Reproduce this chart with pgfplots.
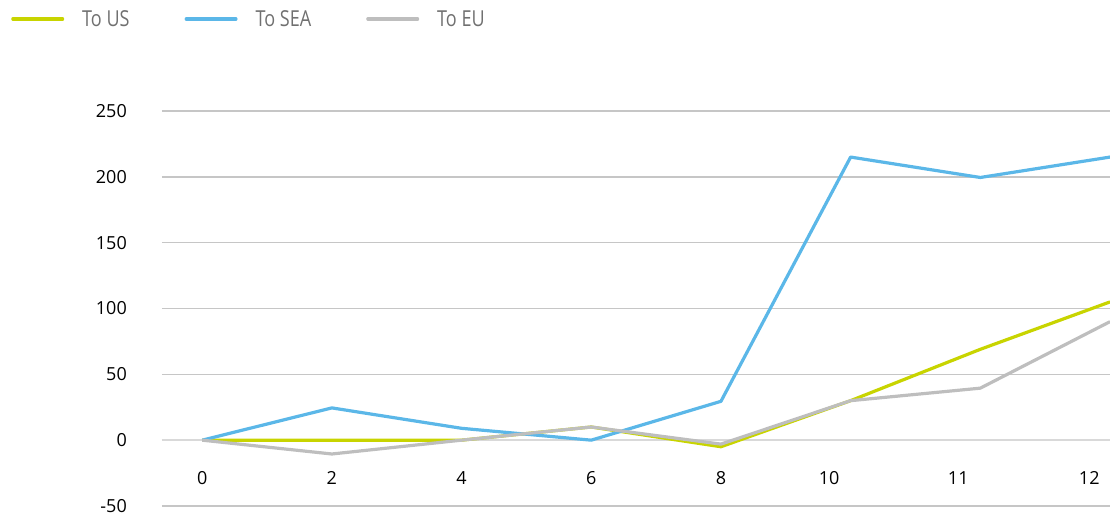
\documentclass[border=0pt]{standalone}
\usepackage{fontspec}
\setmainfont{Open Sans}
\newfontfamily\legfont[FakeStretch=0.82]{Open Sans}
\usepackage{pgfplots}
\pgfplotsset{compat=1.18}
\definecolor{cUS}{HTML}{C8D400}
\definecolor{cSEA}{HTML}{5BB7E8}
\definecolor{cEU}{HTML}{BEBEBE}
\definecolor{gridc}{HTML}{C6C6C6}
\definecolor{zeroc}{HTML}{D9D9D9}
\definecolor{legtext}{HTML}{707070}
\begin{document}
\begin{tikzpicture}
\path[use as bounding box] (-162pt,-15pt) rectangle (948pt,506pt);
\begin{axis}[
  at={(0,0)}, anchor=south west,
  scale only axis, width=948pt, height=395pt,
  xmin=-0.31, xmax=7, ymin=-50, ymax=250,
  axis line style={draw=none},
  tick style={draw=none},
  ytick={-50,0,50,100,150,200,250},
  ymajorgrids, grid style={gridc, line width=1.5pt},
  xtick={0,1,2,3,4,4.834,5.83,6.84},
  xticklabels={0,2,4,6,8,10,11,12},
  /pgf/number format/assume math mode=true,
  ticklabel style={font=\fontsize{18}{20}\selectfont, text=black},
  xticklabel style={anchor=center, yshift=28pt, inner sep=0pt},
  yticklabel style={anchor=east, xshift=-35pt, inner sep=0pt},
  legend columns=-1,
  legend style={draw=none, fill=none, at={(axis description cs:-0.1624,1.2329)}, anchor=west,
    font=\legfont\fontsize{22}{24}\selectfont, text=legtext,
    nodes={inner sep=0pt},
    /tikz/every odd column/.append style={column sep=18pt},
    /tikz/every even column/.append style={column sep=55pt}},
  legend image code/.code={\draw[#1, line width=3.2pt, line cap=round] (1.6pt,0pt) -- (51.4pt,0pt);},
  every axis plot/.append style={line width=3.2pt, line join=round},
]
\addplot[zeroc, line width=2pt, forget plot] coordinates {(-0.31,0) (7,0)};
\addplot[cUS] coordinates {(0,0) (1,0) (2,0) (3,10) (4,-5) (5,30) (6,69) (7,105)};
\addplot[cSEA] coordinates {(0,0) (1,24.5) (2,9) (3,0) (4,29.5) (5,215) (6,199.5) (7,215)};
\addplot[cEU] coordinates {(0,0) (1,-10.5) (2,0) (3,10) (4,-3) (5,30) (6,39.5) (7,90)};
\legend{To US, To SEA, To EU}
\end{axis}
\end{tikzpicture}
\end{document}
